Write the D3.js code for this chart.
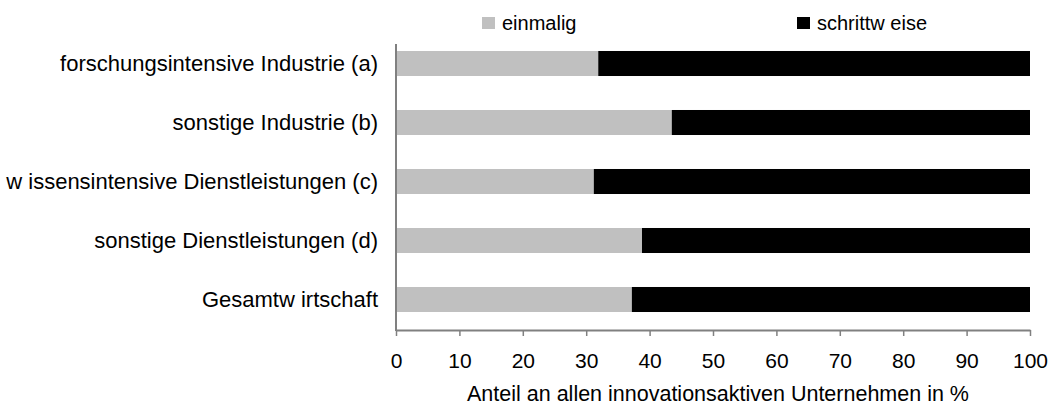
<!DOCTYPE html>
<html>
<head>
<meta charset="utf-8">
<script src="https://cdn.jsdelivr.net/npm/d3@7"></script>
<style>
  body { margin: 0; background: #fff; }
  text { font-family: "Liberation Sans", Arial, sans-serif; fill: #000; }
</style>
</head>
<body>
<div id="chart"></div>
<script>
// Data
var categories = [
    "forschungsintensive Industrie (a)",
    "sonstige Industrie (b)",
    "w issensintensive Dienstleistungen (c)",
    "sonstige Dienstleistungen (d)",
    "Gesamtw irtschaft"
];
var einmalig = [31.9, 43.5, 31.2, 38.8, 37.2];
var schrittweise = [68.1, 56.5, 68.8, 61.2, 62.8];
var seriesNames = ["einmalig", "schrittw eise"];
var xTicks = [0, 10, 20, 30, 40, 50, 60, 70, 80, 90, 100];
var xTitle = "Anteil an allen innovationsaktiven Unternehmen in %";

var width = 1051, height = 405;
var colors = ["#c0c0c0", "#000000"];

var svg = d3.select("#chart").append("svg")
    .attr("width", width)
    .attr("height", height);

var x = d3.scaleLinear().domain([0, 100]).range([396, 1030]);
var y = d3.scaleBand()
    .domain(categories)
    .range([34, 329])
    .paddingInner(0.576)
    .paddingOuter(0.288);

// build rows for the stack
var rows = categories.map(function(c, i) {
    return { cat: c, einmalig: einmalig[i], schrittweise: schrittweise[i] };
});
var stack = d3.stack().keys(["einmalig", "schrittweise"]);
var layers = stack(rows);

svg.selectAll("g.layer")
    .data(layers)
    .enter().append("g")
    .attr("class", "layer")
    .attr("fill", function(d, i) { return colors[i]; })
    .selectAll("rect")
    .data(function(d) { return d; })
    .enter().append("rect")
    .attr("x", function(d) { return x(d[0]); })
    .attr("width", function(d) { return x(d[1]) - x(d[0]); })
    .attr("y", function(d) { return y(d.data.cat); })
    .attr("height", y.bandwidth());

// x axis
var xAxis = d3.axisBottom(x)
    .tickValues(xTicks)
    .tickSize(6)
    .tickPadding(17)
    .tickSizeOuter(0);

var gx = svg.append("g")
    .attr("transform", "translate(0,330)")
    .call(xAxis);
gx.select(".domain").attr("stroke", "#808080").attr("stroke-width", 2);
gx.selectAll(".tick line").attr("stroke", "#808080").attr("stroke-width", 1.5);
gx.selectAll(".tick text")
    .style("font-family", "Liberation Sans, Arial, sans-serif")
    .style("font-size", "21px")
    .attr("fill", "#000");

// y axis line and category labels
svg.append("line")
    .attr("x1", x(0)).attr("x2", x(0))
    .attr("y1", 44).attr("y2", 331)
    .attr("stroke", "#808080")
    .attr("stroke-width", 2);

svg.selectAll("text.cat")
    .data(categories)
    .enter().append("text")
    .attr("class", "cat")
    .attr("x", 378)
    .attr("y", function(d) { return y(d) + y.bandwidth() / 2; })
    .attr("dy", "0.35em")
    .attr("text-anchor", "end")
    .style("font-size", "22px")
    .text(function(d) { return d; });

// axis title
svg.append("text")
    .attr("x", 718)
    .attr("y", 401)
    .attr("text-anchor", "middle")
    .style("font-size", "21.5px")
    .text(xTitle);

// legend
var legendX = [482, 797];
var legend = svg.selectAll("g.legend")
    .data(seriesNames)
    .enter().append("g")
    .attr("class", "legend")
    .attr("transform", function(d, i) { return "translate(" + legendX[i] + ",17)"; });

legend.append("rect")
    .attr("width", 13)
    .attr("height", 12)
    .attr("fill", function(d, i) { return colors[i]; });

legend.append("text")
    .attr("x", 20)
    .attr("y", 13)
    .style("font-size", "20px")
    .text(function(d) { return d; });
</script>
</body>
</html>
